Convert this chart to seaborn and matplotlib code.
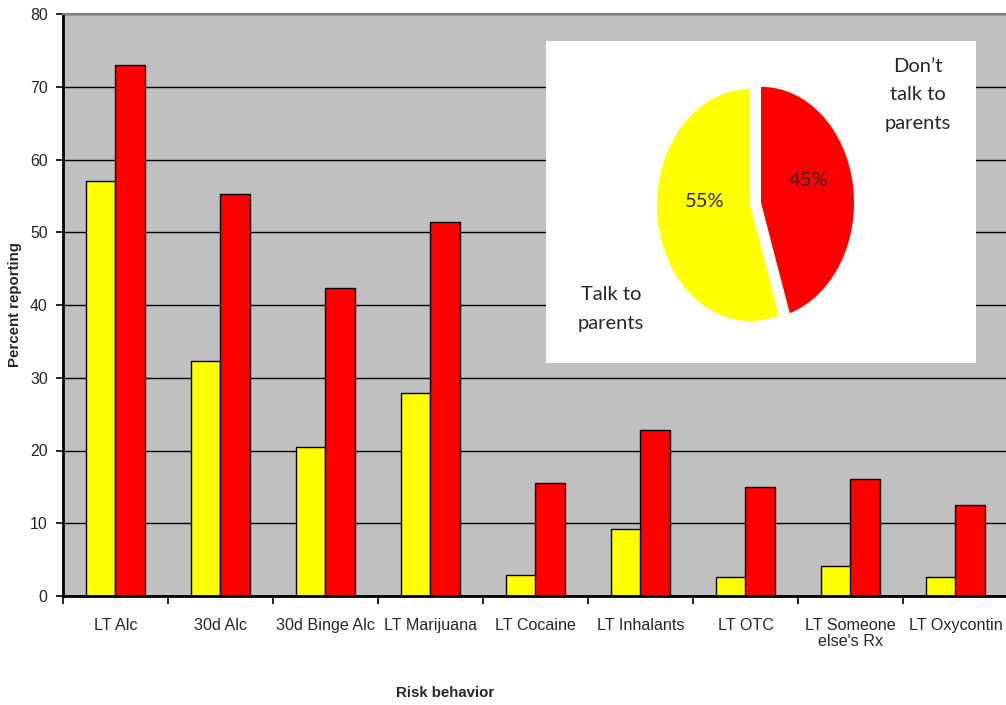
import matplotlib
matplotlib.use("Agg")
import matplotlib.pyplot as plt
import seaborn as sns
import pandas as pd

# Survey results: share of students reporting each behaviour
categories = ["LT Alc", "30d Alc", "30d Binge Alc", "LT Marijuana", "LT Cocaine",
              "LT Inhalants", "LT OTC", "LT Someone\nelse's Rx", "LT Oxycontin"]
talk_to_parents = [57.0, 32.3, 20.5, 27.9, 2.9, 9.2, 2.6, 4.1, 2.6]
dont_talk = [73.0, 55.2, 42.3, 51.4, 15.5, 22.8, 15.0, 16.1, 12.5]
groups = ["Talk to parents", "Don't talk to parents"]
colors = ["#FFFF00", "#FF0000"]

# Inset pie: share who talk / don't talk to parents
pie_labels = ["Don\u2019t\ntalk to\nparents", "Talk to\nparents"]
pie_values = [45, 55]

df = pd.DataFrame({
    "behavior": categories * 2,
    "percent": talk_to_parents + dont_talk,
    "group": [groups[0]] * len(categories) + [groups[1]] * len(categories),
})

sns.set_style("white")
plt.rcParams["font.family"] = ["Liberation Sans", "DejaVu Sans"]

W, H = 1006, 705
fig = plt.figure(figsize=(W / 100, H / 100), dpi=100)


def fx(x):
    return x / W


def fy(y):
    return 1 - y / H


ax = fig.add_axes([fx(63), fy(596), 945 / W, 582 / H])
ax.set_facecolor("#C0C0C0")

sns.barplot(data=df, x="behavior", y="percent", hue="group", order=categories,
            hue_order=groups, palette=colors, width=0.57, gap=0,
            edgecolor="black", linewidth=1.0, saturation=1, legend=False, ax=ax)

ax.set_ylim(0, 80)
ax.set_xlim(-0.5, len(categories) - 0.5)
ax.set_yticks(range(0, 81, 10))
ax.yaxis.grid(True, color="black", linewidth=1.0)
ax.set_axisbelow(True)

ax.set_xticks([i - 0.5 for i in range(len(categories) + 1)], minor=True)
ax.set_xticks(range(len(categories)))
ax.set_xticklabels(categories, fontsize=11.6, linespacing=1.1)
ax.tick_params(axis="x", which="major", length=0, pad=16)
ax.tick_params(axis="x", which="minor", length=6, width=1.2, color="black",
               direction="out", bottom=True)
ax.tick_params(axis="y", length=5, width=1.2, color="black", direction="out",
               left=True, labelsize=11.4, pad=6)
for lbl in ax.get_xticklabels():
    lbl.set_verticalalignment("top")

for side in ["left", "bottom"]:
    ax.spines[side].set_color("black")
    ax.spines[side].set_linewidth(2.0)
ax.spines["top"].set_color("#808080")
ax.spines["top"].set_linewidth(1.5)
ax.spines["right"].set_visible(False)

ax.set_xlabel("")
ax.set_ylabel("")
fig.text(fx(15), fy(305), "Percent reporting", rotation=90, ha="center",
         va="center", fontsize=10.8, fontweight="bold")
fig.text(fx(445), fy(693), "Risk behavior", ha="center", va="center",
         fontsize=10.8, fontweight="bold")

# Inset pie on a white panel
x0, x1, y0, y1 = 546, 976, 41, 363
cx, cy, rx, ry = 750, 205, 93, 116
iax = fig.add_axes([fx(x0), fy(y1), (x1 - x0) / W, (y1 - y0) / H])
iax.pie(pie_values, colors=["#FF0000", "#FFFF00"], startangle=90,
        counterclock=False, explode=[0.12, 0], radius=1, frame=True,
        wedgeprops=dict(linewidth=0))
iax.set_aspect("auto")
iax.set_xlim((x0 - cx) / rx, (x1 - cx) / rx)
iax.set_ylim((cy - y1) / ry, (cy - y0) / ry)
iax.set_facecolor("white")
iax.set_xticks([])
iax.set_yticks([])
for s in iax.spines.values():
    s.set_visible(False)

pie_font = ["Lato", "DejaVu Sans"]
fig.text(fx(809), fy(180), f"{pie_values[0]}%", ha="center", va="center",
         fontsize=14.5, family=pie_font)
fig.text(fx(705), fy(201), f"{pie_values[1]}%", ha="center", va="center",
         fontsize=14.5, family=pie_font)
fig.text(fx(918), fy(95), pie_labels[0], ha="center", va="center",
         fontsize=14.5, family=pie_font, linespacing=1.8)
fig.text(fx(611), fy(309), pie_labels[1], ha="center", va="center",
         fontsize=14.5, family=pie_font, linespacing=1.8)

fig.savefig("out.png", dpi=100, facecolor="white")
